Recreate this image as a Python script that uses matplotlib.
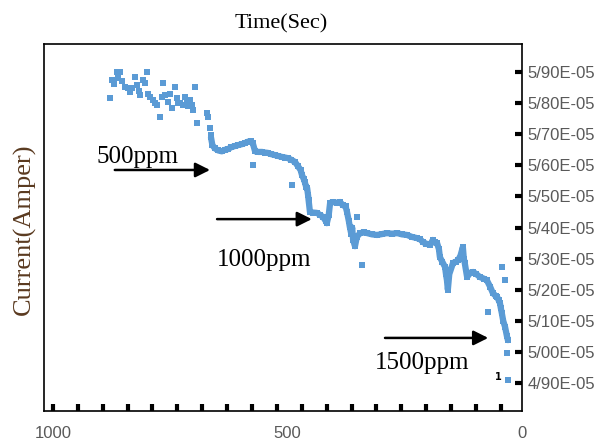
import numpy as np
import matplotlib
matplotlib.use('Agg')
import matplotlib.pyplot as plt
from matplotlib.ticker import FixedLocator, FuncFormatter

# current values are in units of 1e-5 A
# dense band of measurements
band_time = [663, 660, 655, 648, 640, 633, 627, 620, 612, 605, 597, 590, 584, 578, 574,
             569, 562, 554, 548, 542, 535, 527, 520, 512, 505, 499, 492, 484, 478, 472,
             469, 465, 463, 460, 458, 456, 455,
             452, 445, 437, 430, 424, 418, 416, 412, 409, 402, 394, 388, 382, 376, 373,
             369, 367, 364, 362, 360, 356, 352, 345, 337, 330, 320, 309, 298, 288, 277,
             266, 256, 245, 235, 224, 217, 211, 204, 196, 190, 186, 181, 177, 175, 170,
             164, 162, 160, 158, 155, 147, 141, 136, 131, 126, 124, 122, 117, 110, 104,
             97, 90, 82, 75, 68, 62, 56, 53, 50, 47, 45, 43, 40, 36, 32, 30]
band_current = [5.690, 5.665, 5.655, 5.648, 5.645, 5.650, 5.652, 5.658, 5.662, 5.665, 5.668, 5.672, 5.676, 5.678, 5.672,
                5.645, 5.643, 5.643, 5.641, 5.640, 5.636, 5.633, 5.630, 5.627, 5.625, 5.623, 5.618, 5.611, 5.598, 5.585,
                5.569, 5.555, 5.546, 5.530, 5.527, 5.504, 5.490,
                5.450, 5.448, 5.447, 5.440, 5.434, 5.420, 5.414, 5.440, 5.479, 5.482, 5.479, 5.482, 5.472, 5.468, 5.450,
                5.420, 5.402, 5.380, 5.400, 5.360, 5.340, 5.370, 5.382, 5.384, 5.382, 5.378, 5.376, 5.379, 5.382, 5.380,
                5.382, 5.378, 5.376, 5.370, 5.366, 5.362, 5.353, 5.348, 5.344, 5.360, 5.352, 5.350, 5.330, 5.305, 5.290,
                5.273, 5.250, 5.231, 5.200, 5.250, 5.286, 5.290, 5.295, 5.310, 5.337, 5.300, 5.286, 5.241, 5.255, 5.257,
                5.250, 5.241, 5.236, 5.231, 5.210, 5.189, 5.180, 5.177, 5.167, 5.157, 5.140, 5.125, 5.100, 5.080, 5.050, 5.038]

# scattered readings (early region and outliers)
dots_time = [878, 874, 870, 864, 861, 857, 852, 846, 840, 836, 832, 825, 821, 817, 814, 808,
             804, 800, 797, 793, 787, 783, 778, 772, 768, 765, 761, 755, 750, 746, 740, 736,
             733, 729, 723, 718, 714, 711, 708, 704, 701, 697, 693, 672, 669, 665, 663,
             574, 490, 352, 341, 126, 72, 43, 36, 32, 30]
dots_current = [5.816, 5.874, 5.860, 5.900, 5.881, 5.900, 5.870, 5.852, 5.849, 5.836, 5.850, 5.884, 5.858, 5.840, 5.826, 5.874,
                5.865, 5.900, 5.830, 5.820, 5.810, 5.800, 5.794, 5.755, 5.820, 5.865, 5.826, 5.804, 5.830, 5.784, 5.852, 5.816,
                5.800, 5.800, 5.794, 5.820, 5.804, 5.790, 5.810, 5.794, 5.778, 5.852, 5.736, 5.768, 5.755, 5.720, 5.697,
                5.601, 5.537, 5.434, 5.279, 5.337, 5.128, 5.273, 5.231, 4.996, 4.910]

x_labels = [1000, 500, 0]
y_ticks = [4.9, 5.0, 5.1, 5.2, 5.3, 5.4, 5.5, 5.6, 5.7, 5.8, 5.9]

blue = '#5b9bd5'
gray = '#595959'

fig = plt.figure(figsize=(6.04, 4.41), dpi=100)
ax = fig.add_axes([0.0728, 0.068, 0.7914, 0.8322])

ax.plot(band_time, band_current, color=blue, lw=4.5, marker='s', ms=4.5, mew=0,
        solid_capstyle='round', solid_joinstyle='round')
ax.scatter(dots_time, dots_current, s=16, color=blue, marker='s', linewidths=0)

ax.set_xlim(1019, 0)
ax.set_ylim(4.81, 5.99)

# x axis: labels at 1000/500/0, small tick marks inside
ax.xaxis.remove_overlapping_locs = False
ax.xaxis.set_major_locator(FixedLocator(x_labels))
ax.xaxis.set_minor_locator(FixedLocator(np.linspace(1000, 45, 19)))
ax.tick_params(axis='x', which='major', length=0, pad=11, labelsize=12, labelcolor=gray)
ax.tick_params(axis='x', which='minor', direction='in', length=5, width=3, color='black')

# y axis on the right
ax.yaxis.tick_right()
ax.yaxis.set_major_locator(FixedLocator(y_ticks))
ax.yaxis.set_major_formatter(FuncFormatter(lambda v, p: f"{v:.2f}".replace('.', '/') + 'E-05'))
ax.tick_params(axis='y', which='major', direction='in', length=5, width=3, color='black',
               pad=4, labelsize=12, labelcolor=gray)
for lab in ax.get_xticklabels() + ax.get_yticklabels():
    lab.set_fontfamily('Liberation Sans')

for s in ax.spines.values():
    s.set_linewidth(1.2)
    s.set_color('black')

fig.text(0.466, 0.945, 'Time(Sec)', family='Liberation Serif', fontsize=16, ha='center', va='center')
fig.text(0.040, 0.48, 'Current(Amper)', family='Liberation Serif', fontsize=19,
         rotation=90, ha='center', va='center', color='#5a3a20')

arrow = dict(arrowstyle='-|>', lw=1.8, color='black', mutation_scale=22, shrinkA=0, shrinkB=0)
ax.annotate('', xy=(665, 5.585), xytext=(868, 5.585), arrowprops=arrow)
ax.text(906, 5.627, '500ppm', family='Liberation Serif', fontsize=18, ha='left', va='center')
ax.annotate('', xy=(448, 5.427), xytext=(650, 5.427), arrowprops=arrow)
ax.text(650, 5.295, '1000ppm', family='Liberation Serif', fontsize=18, ha='left', va='center')
ax.annotate('', xy=(72, 5.045), xytext=(292, 5.045), arrowprops=arrow)
ax.text(313, 4.964, '1500ppm', family='Liberation Serif', fontsize=18, ha='left', va='center')
ax.text(51, 4.92, '1', fontsize=7, fontweight='bold', ha='center', va='center')

fig.savefig('out.png', dpi=100)
